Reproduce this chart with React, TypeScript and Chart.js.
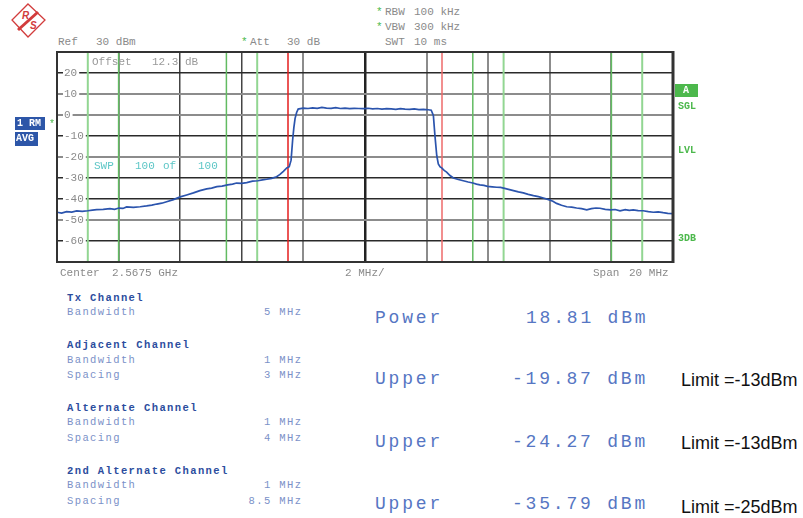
import React, { useEffect, useRef } from "react";
import { Chart, registerables } from "chart.js";

Chart.register(...registerables);

// ---------- data ----------
const freqOffsetMHz = [
  -10.0, -9.85, -9.69, -9.52, -9.36, -9.18, -9.0, -8.85, -8.71, -8.5, -8.28, -8.13, -7.99, -7.86, -7.74, -7.52,
  -7.3, -7.09, -6.92, -6.76, -6.6, -6.44, -6.22, -6.0, -5.79, -5.57, -5.36, -5.14, -4.98, -4.81, -4.64, -4.46,
  -4.3, -4.17, -4.0, -3.84, -3.65, -3.48, -3.33, -3.19, -3.03, -2.87, -2.76, -2.65, -2.54, -2.46, -2.4, -2.35,
  -2.31, -2.27, -2.22, -2.17,
  -2.1, -2.0, -1.85, -1.7, -1.55, -1.4, -1.25, -1.1, -0.95, -0.8, -0.65, -0.5, -0.35, -0.2, -0.05, 0.1, 0.25,
  0.4, 0.55, 0.7, 0.85, 1.0, 1.15, 1.3, 1.45, 1.6, 1.75, 1.9, 2.05, 2.15,
  2.22, 2.27, 2.33, 2.38, 2.44, 2.49, 2.57, 2.65, 2.76, 2.87, 3.03, 3.19, 3.35, 3.5, 3.62, 3.73, 3.86, 3.98,
  4.13, 4.28, 4.4, 4.5, 4.66, 4.82, 4.98, 5.14, 5.3, 5.47, 5.63, 5.79, 5.96, 6.1, 6.22, 6.38, 6.55, 6.71, 6.87,
  7.03, 7.2, 7.35, 7.5, 7.63, 7.8, 7.98, 8.12, 8.28, 8.45, 8.58, 8.71, 8.87, 9.03, 9.2, 9.36, 9.52, 9.68, 9.83, 10.0,
];
const traceDbm = [
  -46.3, -46.7, -46.0, -46.2, -45.7, -45.9, -45.6, -45.3, -45.1, -44.9, -44.6, -44.9, -44.3, -44.5, -43.8, -44.0,
  -43.7, -43.3, -42.9, -42.4, -42.0, -41.3, -40.3, -39.0, -38.1, -37.1, -36.0, -35.2, -34.8, -34.1, -33.9, -33.3,
  -32.9, -32.4, -32.6, -32.2, -31.5, -31.3, -30.9, -30.6, -30.2, -29.4, -28.3, -26.8, -25.2, -24.6, -21.5, -12.0,
  -6.0, -1.6, 1.2, 2.8,
  3.0, 3.3, 3.1, 3.4, 3.2, 3.6, 3.3, 3.2, 3.5, 3.1, 3.3, 3.0, 3.2, 3.1, 3.0, 3.2, 2.9,
  3.1, 2.8, 3.0, 2.9, 2.7, 3.0, 2.8, 2.7, 2.9, 2.6, 2.7, 2.5, 2.3,
  -0.2, -9.7, -19.4, -23.3, -24.7, -25.2, -26.4, -27.2, -28.8, -30.0, -30.7, -31.3, -31.9, -32.4, -32.9, -33.3, -33.5, -34.0,
  -34.2, -34.4, -34.5, -34.8, -35.4, -36.0, -36.6, -37.1, -37.8, -38.4, -38.9, -39.5, -40.3, -41.1, -42.1, -43.0, -43.7, -43.9, -44.3,
  -44.6, -45.2, -44.6, -44.3, -44.4, -44.9, -45.2, -45.0, -45.6, -45.1, -45.4, -45.2, -45.5, -45.6, -46.0, -46.3, -46.1, -46.5, -46.8, -47.0,
];
// channel limit lines (MHz offset from center)
const channelEdgesMHz = [-9, -8, -4.5, -3.5, -2.5, 2.5, 3.5, 4.5, 8, 9];
const refLevelDbm = 30;
const bottomLevelDbm = -70;
const spanMHz = 20;
const divMHz = 2;

// ---------- styles ----------
const channelEdgeColors = ["#92d692", "#62bb62", "#62bb62", "#92d692", "#e41e1e", "#ee6a6a", "#62bb62", "#92d692", "#62bb62", "#92d692"];
const channelEdgeWidths = [2, 1.5, 1.5, 2, 1.5, 1.5, 1.5, 2, 1.5, 2];
const darkH = new Set([20, -10, -30, -40, -60]);
const darkV = new Set([-6, -4]);

const MONO = '"Liberation Mono", "DejaVu Sans Mono", monospace';
const SANS = '"Liberation Sans", Arial, sans-serif';

type TP = { x: number; y: number; s?: number; c?: string; w?: number; f?: string; ls?: number; right?: boolean; children: React.ReactNode };
const T = ({ x, y, s = 11, c = "#8a8a8a", w = 400, f = MONO, ls = 0, right = false, children }: TP) => (
  <div
    style={{
      position: "absolute",
      ...(right ? { right: 803 - x - ls, textAlign: "right" as const } : { left: x }),
      top: y - s / 2,
      fontSize: s,
      lineHeight: `${s}px`,
      color: c,
      fontWeight: w,
      fontFamily: f,
      letterSpacing: ls,
      whiteSpace: "pre",
    }}
  >
    {children}
  </div>
);

const framePlugin = {
  id: "frame",
  afterDatasetsDraw(chart: any) {
    const { ctx, chartArea: a } = chart;
    ctx.save();
    ctx.strokeStyle = "#333";
    ctx.lineWidth = 2;
    ctx.beginPath();
    ctx.moveTo(a.right, a.top);
    ctx.lineTo(a.left, a.top);
    ctx.lineTo(a.left, a.bottom);
    ctx.lineTo(a.right, a.bottom);
    ctx.stroke();
    ctx.lineWidth = 3;
    ctx.beginPath();
    ctx.moveTo(a.right, a.top - 1);
    ctx.lineTo(a.right, a.bottom + 1);
    ctx.stroke();
    ctx.restore();
  },
};

const PAD = 16;

function SpectrumChart() {
  const ref = useRef<HTMLCanvasElement>(null);
  useEffect(() => {
    if (!ref.current) return;
    const trace = freqOffsetMHz.map((f, i) => ({ x: f, y: traceDbm[i] }));
    const edgeSets = channelEdgesMHz.map((f, i) => ({
      data: [
        { x: f, y: bottomLevelDbm },
        { x: f, y: refLevelDbm },
      ],
      showLine: true,
      borderColor: channelEdgeColors[i],
      borderWidth: channelEdgeWidths[i],
      pointRadius: 0,
      order: 2,
    }));
    const chart = new Chart(ref.current, {
      type: "scatter",
      data: {
        datasets: [
          {
            data: trace,
            showLine: true,
            borderColor: "#2b54ad",
            borderWidth: 1.7,
            pointRadius: 0,
            order: 1,
          },
          ...edgeSets,
        ],
      },
      options: {
        animation: false,
        responsive: false,
        devicePixelRatio: 1,
        layout: { padding: PAD },
        plugins: { legend: { display: false }, tooltip: { enabled: false } },
        scales: {
          x: {
            type: "linear",
            min: -spanMHz / 2,
            max: spanMHz / 2,
            ticks: { display: false, stepSize: divMHz },
            border: { display: false },
            afterFit: (s: any) => {
              s.height = 0;
            },
            grid: {
              drawTicks: false,
              color: (c: any) => {
                const v = c.tick?.value;
                if (v === -spanMHz / 2 || v === spanMHz / 2) return "rgba(0,0,0,0)";
                if (v === 0) return "#222";
                return darkV.has(v) ? "#444" : "#8c8c8c";
              },
              lineWidth: (c: any) => (c.tick?.value === 0 ? 2.5 : darkV.has(c.tick?.value) ? 1.5 : 2),
            },
          },
          y: {
            type: "linear",
            min: bottomLevelDbm,
            max: refLevelDbm,
            border: { display: false },
            afterFit: (s: any) => {
              s.width = 0;
            },
            ticks: {
              stepSize: 10,
              mirror: true,
              padding: 7,
              color: "#8a8a8a",
              font: { family: MONO, size: 11 },
              showLabelBackdrop: true,
              backdropColor: "#ffffff",
              backdropPadding: { top: 0, bottom: 0, left: 1, right: 2 },
              callback: (v: any) => (v === refLevelDbm || v === bottomLevelDbm ? null : String(v)),
            },
            grid: {
              drawTicks: false,
              color: (c: any) => (darkH.has(c.tick?.value) ? "#2a2a2a" : "#8c8c8c"),
              lineWidth: (c: any) => (darkH.has(c.tick?.value) ? 1.5 : 2),
            },
          },
        },
      } as any,
      plugins: [framePlugin],
    });
    return () => chart.destroy();
  }, []);
  return (
    <canvas
      ref={ref}
      width={616 + 2 * PAD}
      height={210 + 2 * PAD}
      style={{ position: "absolute", left: 57 - PAD, top: 52 - PAD }}
    />
  );
}

const tableHead = "#2c4d9e";
const tableSub = "#7b91c8";
const bigBlue = "#5676c3";
const green = "#4cb84c";

export default function App() {
  return (
    <div style={{ position: "fixed", left: 0, top: 0, width: 803, height: 518, background: "#fff", overflow: "hidden" }}>
      {/* logo */}
      <svg width={60} height={42} style={{ position: "absolute", left: 0, top: 0 }}>
        <polygon points="28,4 45,20 28,37 12,20" fill="none" stroke="#d23c3c" strokeWidth={1.3} />
        <line x1={38} y1={12} x2={18} y2={30} stroke="#d23c3c" strokeWidth={3} />
        <text x={22} y={19} fontSize={10} fontStyle="italic" fontWeight={700} fill="#d23c3c" fontFamily={SANS}>R</text>
        <text x={30} y={29} fontSize={10} fontStyle="italic" fontWeight={700} fill="#d23c3c" fontFamily={SANS}>S</text>
      </svg>

      {/* header */}
      <T x={376} y={12} c={green}>*</T>
      <T x={385} y={12}>RBW</T>
      <T x={414} y={12}>100 kHz</T>
      <T x={376} y={27} c={green}>*</T>
      <T x={385} y={27}>VBW</T>
      <T x={414} y={27}>300 kHz</T>
      <T x={385} y={42}>SWT</T>
      <T x={414} y={42}>10 ms</T>
      <T x={58} y={42}>Ref</T>
      <T x={96} y={42}>30 dBm</T>
      <T x={241} y={42} c={green}>*</T>
      <T x={250} y={42}>Att</T>
      <T x={287} y={42}>30 dB</T>

      <SpectrumChart />

      {/* in-plot labels */}
      <T x={92} y={62} c="#9a9a9a">Offset</T>
      <T x={152} y={62} c="#9a9a9a">12.3</T>
      <T x={185} y={62} c="#9a9a9a">dB</T>
      <T x={94} y={166} c="#5cc6c6">SWP</T>
      <T x={135} y={166} c="#5cc6c6">100</T>
      <T x={163} y={166} c="#5cc6c6">of</T>
      <T x={198} y={166} c="#5cc6c6">100</T>

      {/* left trace labels */}
      <div style={{ position: "absolute", left: 15, top: 117, width: 30, height: 13, background: "#2d56a8" }} />
      <T x={17} y={124} s={10} c="#fff" w={700}>1 RM</T>
      <T x={49} y={125} s={10} c={green}>*</T>
      <div style={{ position: "absolute", left: 15, top: 132, width: 23, height: 14, background: "#2d56a8" }} />
      <T x={16} y={139} s={10} c="#fff" w={700}>AVG</T>

      {/* right labels */}
      <div style={{ position: "absolute", left: 675, top: 84, width: 23, height: 13, background: green }} />
      <T x={683} y={91} s={10} c="#fff" w={700}>A</T>
      <T x={678} y={107} s={10} c={green} w={700}>SGL</T>
      <T x={678} y={151} s={10} c={green} w={700}>LVL</T>
      <T x={678} y={239} s={10} c={green} w={700}>3DB</T>

      {/* bottom axis text */}
      <T x={60} y={273}>Center</T>
      <T x={112} y={273}>2.5675 GHz</T>
      <T x={345} y={273}>2 MHz/</T>
      <T x={593} y={273}>Span</T>
      <T x={629} y={273}>20 MHz</T>

      {/* channel table */}
      <T x={67} y={298} s={10.5} ls={1.4} c={tableHead} w={700}>Tx Channel</T>
      <T x={67} y={312} s={10.5} ls={1.4} c={tableSub}>Bandwidth</T>
      <T x={301} y={312} s={10.5} ls={1.4} c={tableSub} right>5 MHz</T>

      <T x={67} y={345} s={10.5} ls={1.4} c={tableHead} w={700}>Adjacent Channel</T>
      <T x={67} y={360} s={10.5} ls={1.4} c={tableSub}>Bandwidth</T>
      <T x={301} y={360} s={10.5} ls={1.4} c={tableSub} right>1 MHz</T>
      <T x={67} y={375} s={10.5} ls={1.4} c={tableSub}>Spacing</T>
      <T x={301} y={375} s={10.5} ls={1.4} c={tableSub} right>3 MHz</T>

      <T x={67} y={408} s={10.5} ls={1.4} c={tableHead} w={700}>Alternate Channel</T>
      <T x={67} y={422} s={10.5} ls={1.4} c={tableSub}>Bandwidth</T>
      <T x={301} y={422} s={10.5} ls={1.4} c={tableSub} right>1 MHz</T>
      <T x={67} y={438} s={10.5} ls={1.4} c={tableSub}>Spacing</T>
      <T x={301} y={438} s={10.5} ls={1.4} c={tableSub} right>4 MHz</T>

      <T x={67} y={471} s={10.5} ls={1.4} c={tableHead} w={700}>2nd Alternate Channel</T>
      <T x={67} y={485} s={10.5} ls={1.4} c={tableSub}>Bandwidth</T>
      <T x={301} y={485} s={10.5} ls={1.4} c={tableSub} right>1 MHz</T>
      <T x={67} y={501} s={10.5} ls={1.4} c={tableSub}>Spacing</T>
      <T x={301} y={501} s={10.5} ls={1.4} c={tableSub} right>8.5 MHz</T>

      {/* results */}
      <T x={375} y={318} s={18} ls={2.8} c={bigBlue}>Power</T>
      <T x={526} y={318} s={18} ls={2.8} c={bigBlue}>18.81 dBm</T>
      <T x={375} y={379} s={18} ls={2.8} c={bigBlue}>Upper</T>
      <T x={512} y={379} s={18} ls={2.8} c={bigBlue}>-19.87 dBm</T>
      <T x={375} y={442} s={18} ls={2.8} c={bigBlue}>Upper</T>
      <T x={512} y={442} s={18} ls={2.8} c={bigBlue}>-24.27 dBm</T>
      <T x={375} y={504} s={18} ls={2.8} c={bigBlue}>Upper</T>
      <T x={512} y={504} s={18} ls={2.8} c={bigBlue}>-35.79 dBm</T>

      <T x={681} y={380} s={18} f={SANS} c="#111">Limit =-13dBm</T>
      <T x={681} y={443} s={18} f={SANS} c="#111">Limit =-13dBm</T>
      <T x={681} y={507} s={18} f={SANS} c="#111">Limit =-25dBm</T>
    </div>
  );
}
